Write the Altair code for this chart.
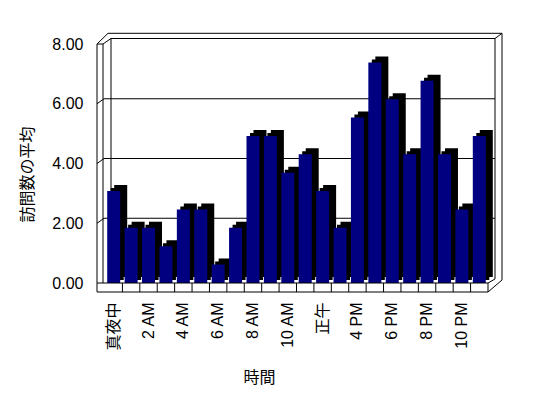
import altair as alt
import pandas as pd

# ---- data ----
hours = ["真夜中", "1 AM", "2 AM", "3 AM", "4 AM", "5 AM", "6 AM", "7 AM",
         "8 AM", "9 AM", "10 AM", "11 AM", "正午", "1 PM", "4 PM", "5 PM",
         "6 PM", "7 PM", "8 PM", "9 PM", "10 PM", "11 PM"]
avg_visits = [3.08, 1.85, 1.85, 1.23, 2.46, 2.46, 0.62, 1.85, 4.92, 4.92, 3.69,
              4.31, 3.08, 1.85, 5.54, 7.38, 6.15, 4.31, 6.77, 4.31, 2.46, 4.92]
shown_hours = hours[::2]
y_ticks = [0, 2, 4, 6, 8]
grid_levels = [2, 4, 6]

W, H = 383, 239
FONT = "Liberation Sans, Noto Sans CJK JP, sans-serif"
CJK = "Noto Sans CJK JP"

df = pd.DataFrame({"hour": hours, "visits": avg_visits})
grid_df = pd.DataFrame({"level": grid_levels})
one = pd.DataFrame({"a": [0]})

xscale = alt.Scale(domain=hours, paddingInner=0, paddingOuter=0)
yscale = alt.Scale(domain=[0, 8], nice=False, zero=True)

xaxis = alt.Axis(values=shown_hours, labelAngle=-90, labelPadding=19, ticks=False,
                 domain=False, labelFont=FONT, labelFontSize=16, labelColor="black",
                 labelOverlap=False, title="時間", titleFont=CJK, titleFontSize=16,
                 titleFontWeight="normal", titleColor="black", titleX=154, titleY=94,
                 titleBaseline="middle", titleAlign="center")
yaxis = alt.Axis(values=y_ticks, format=".2f", offset=8, ticks=False, domain=False,
                 grid=False, labelPadding=14, labelFont=FONT, labelFontSize=16,
                 labelColor="black", title="訪問数の平均", titleFont=CJK,
                 titleFontSize=16, titleFontWeight="normal", titleColor="black",
                 titleAngle=-90, titleX=-70, titleY=130, titleBaseline="middle",
                 titleAlign="center")


def seg(x1, x2, v1, v2, o1=0, o2=0):
    """Frame line of the 3-D box: x in pixels, vertical via the y scale."""
    return alt.Chart(one).mark_rule(color="black", strokeWidth=1, yOffset=o1,
                                    y2Offset=o2).encode(
        x=alt.value(x1), x2=alt.value(x2),
        y=alt.Y(datum=v1, scale=yscale, axis=yaxis), y2=alt.datum(v2))


x_enc = alt.X("hour:N", scale=xscale, sort=hours, axis=xaxis)
y_enc = alt.Y("visits:Q", scale=yscale, axis=yaxis)

# back wall
back = [
    seg(6, 390, 8, 8, -5.5, -5.5),      # inner top
    seg(3, 397, 8, 8, -10.7, -10.7),    # outer top
    seg(6, 6, 8, 0, -5.5, -6),          # back-left vertical
    seg(390, 390, 8, 0, -5.5, -4),      # back-right inner vertical
    seg(397, 397, 8, 0, -10.7, -3),     # back-right outer vertical
    seg(390, 397, 8, 8, -5.5, -10.7),   # top-right diagonal
]

grid = alt.Chart(grid_df).mark_rule(color="black", yOffset=-5, y2Offset=-5).encode(
    x=alt.value(-1), x2=alt.value(390),
    y=alt.Y("level:Q", scale=yscale, axis=yaxis), y2="level:Q")
grid_diag = alt.Chart(grid_df).mark_rule(color="black", yOffset=0, y2Offset=-5).encode(
    x=alt.value(-8), x2=alt.value(-1),
    y=alt.Y("level:Q", scale=yscale, axis=yaxis), y2="level:Q")

# 3-D depth of each column: black side/top, stepped to mimic the bevel
side = alt.Chart(df).mark_bar(size=13, xOffset=7, yOffset=-6, y2Offset=0,
                              color="black").encode(x=x_enc, y=y_enc)
side_mid = alt.Chart(df).mark_bar(size=13, xOffset=3.5, yOffset=-3, y2Offset=0,
                                  color="black").encode(x=x_enc, y=y_enc)
front = alt.Chart(df).mark_bar(size=13, color="#000080").encode(x=x_enc, y=y_enc)

cells = alt.Chart(df).transform_filter(alt.datum.hour != hours[0]).mark_rule(
    color="black", yOffset=0, y2Offset=9).encode(
    x=alt.X("hour:N", scale=xscale, sort=hours, bandPosition=0, axis=xaxis),
    y=alt.Y(datum=0, scale=yscale, axis=yaxis), y2=alt.datum(0))

floor = [
    seg(-8, 383, 0, 0, 0, 0),           # floor front top
    seg(-8, 383, 0, 0, 9, 9),           # floor front bottom
    seg(383, 383, 0, 0, 0, 9),          # floor right end
    seg(383, 390, 0, 0, 0, -4),         # floor top-right diagonal
    seg(383, 397, 0, 0, 9, -3),         # floor bottom-right diagonal
]

left = [
    seg(-8, -8, 8, 0, 0, 9),            # front axis line
    seg(-2, -2, 8, 0, 0, 0),            # left wall inner
    seg(-8, -2, 8, 8, 0, 0),            # left wall top
    seg(-8, 3, 8, 8, 0, -10.7),         # top-left outer diagonal
    seg(-2, 6, 8, 8, 0, -5.5),          # top-left inner diagonal
]

chart = alt.layer(*back, grid, grid_diag, side, side_mid, front, *floor, cells,
                  *left).properties(
    width=W, height=H,
    autosize=alt.AutoSizeParams(type="none"),
    padding={"left": 97, "top": 36, "right": 52, "bottom": 107},
    background="white",
).configure_view(stroke=None)

chart.save("out.html", embed_options={"renderer": "svg", "actions": False})
